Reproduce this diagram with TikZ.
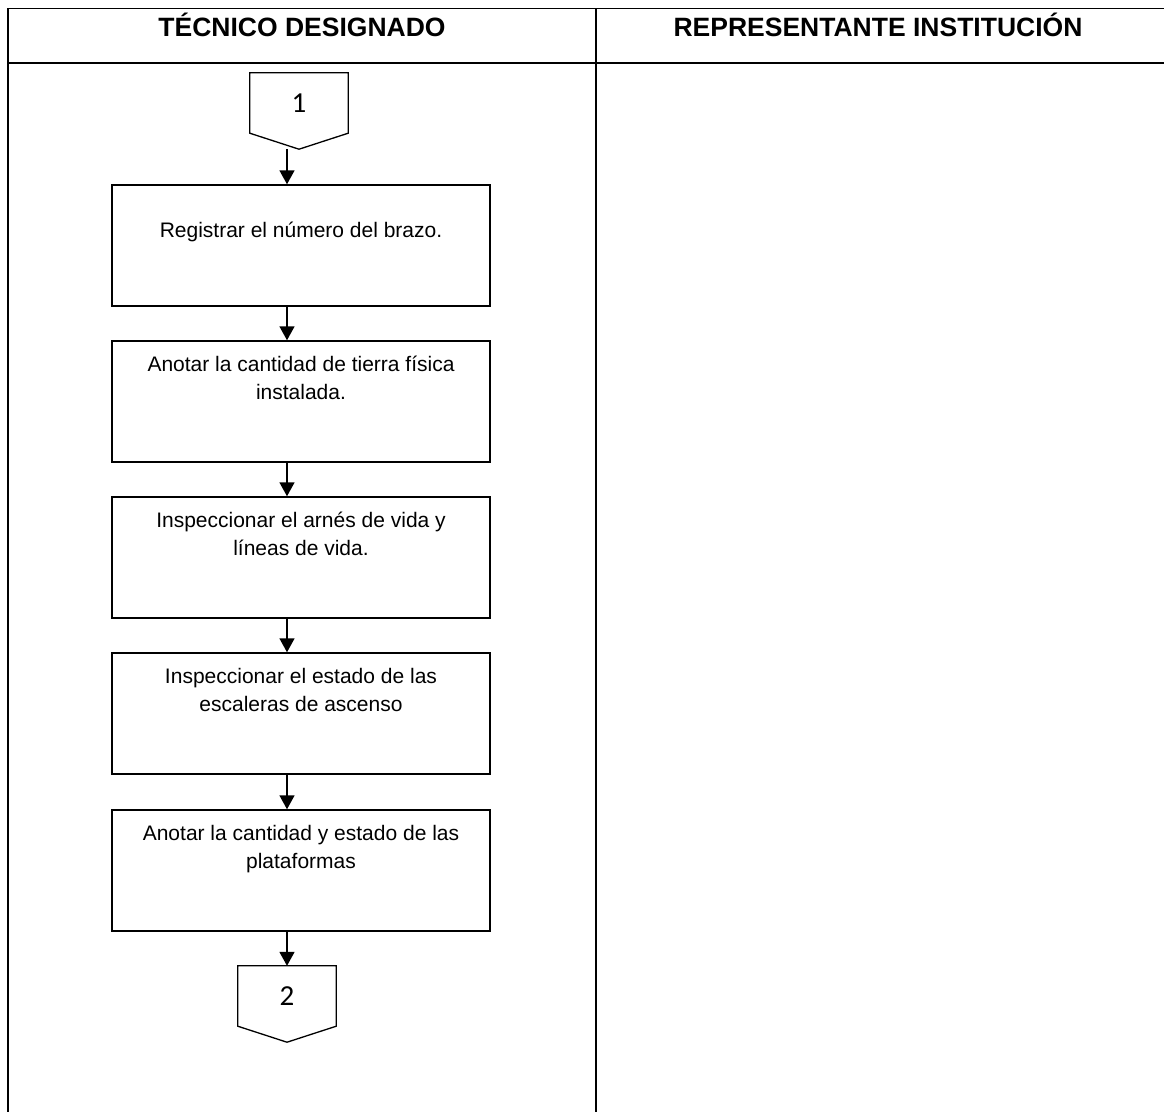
\documentclass[tikz,border=0pt]{standalone}
\usepackage{fontspec}
\setmainfont{Liberation Sans}
\newfontfamily\connfont{Carlito}
\usetikzlibrary{positioning, arrows.meta, calc}
\tikzset{
  >={Triangle[length=14pt, width=15pt]},
  every node/.style={font=\fontsize{21}{28}\selectfont},
  lanehead/.style={font=\bfseries\fontsize{26.5}{30}\selectfont, anchor=base,
    inner sep=0pt},
  stepbox/.style={rectangle, draw, line width=1.5pt, minimum width=378pt,
    minimum height=121pt, inner sep=0pt},
  steptext/.style={anchor=north, align=center, inner sep=0pt},
  offpage/.style={rectangle, minimum width=98pt, minimum height=60pt,
    inner sep=0pt, font=\connfont\fontsize{29}{32}\selectfont},
  flowarrow/.style={->, line width=1.6pt},
  laneline/.style={line width=1.3pt}
}
\newcommand{\offpageoutline}[1]{%
  \draw[line width=1.3pt, line join=miter] (#1.north west) -- (#1.north east)
    -- (#1.south east) -- ([yshift=-16pt]#1.south) -- (#1.south west) -- cycle;}

\begin{document}
\begin{tikzpicture}[x=1pt, y=1pt]
\useasboundingbox (0,0) rectangle (1164,-1112);
\fill[white] (0,0) rectangle (1164,-1112);

% swimlanes
\draw[line width=1pt] (8,-8) -- (1164,-8);
\draw[line width=2.2pt] (8,-63) -- (1164,-63);
\draw[laneline] (8,-8) -- (8,-1112);
\draw[line width=1.8pt] (596,-8) -- (596,-1112);
\node[lanehead] (tecnico) at (302,-36) {TÉCNICO DESIGNADO};
\node[lanehead] (repres) at (878,-36) {REPRESENTANTE INSTITUCIÓN};

% steps
\node[offpage] (c1) at (299,-103) {1};
\offpageoutline{c1}

\node[stepbox] (s1) at (301,-245.5) {};
\node[steptext, below=33pt of s1.north] (t1)
   {\strut Registrar el número del brazo.};

\node[stepbox] (s2) at (301,-401.5) {};
\node[steptext, below=11pt of s2.north] (t2)
   {\strut Anotar la cantidad de tierra física\\instalada.};

\node[stepbox] (s3) at (301,-557.5) {};
\node[steptext, below=11pt of s3.north] (t3)
   {\strut Inspeccionar el arnés de vida y\\líneas de vida.};

\node[stepbox] (s4) at (301,-713.5) {};
\node[steptext, below=11pt of s4.north] (t4)
   {\strut Inspeccionar el estado de las\\escaleras de ascenso};

\node[stepbox] (s5) at (301,-870.5) {};
\node[steptext, below=11pt of s5.north] (t5)
   {\strut Anotar la cantidad y estado de las\\plataformas};

\node[offpage] (c2) at (287,-996) {2};
\offpageoutline{c2}

\draw[flowarrow] ([xshift=-12pt,yshift=-16pt]c1.south) -- ([xshift=-14pt]s1.north);
\draw[flowarrow] ([xshift=-14pt]s1.south) -- ([xshift=-14pt]s2.north);
\draw[flowarrow] ([xshift=-14pt]s2.south) -- ([xshift=-14pt]s3.north);
\draw[flowarrow] ([xshift=-14pt]s3.south) -- ([xshift=-14pt]s4.north);
\draw[flowarrow] ([xshift=-14pt]s4.south) -- ([xshift=-14pt]s5.north);
\draw[flowarrow] ([xshift=-14pt]s5.south) -- (c2.north);
\end{tikzpicture}
\end{document}
